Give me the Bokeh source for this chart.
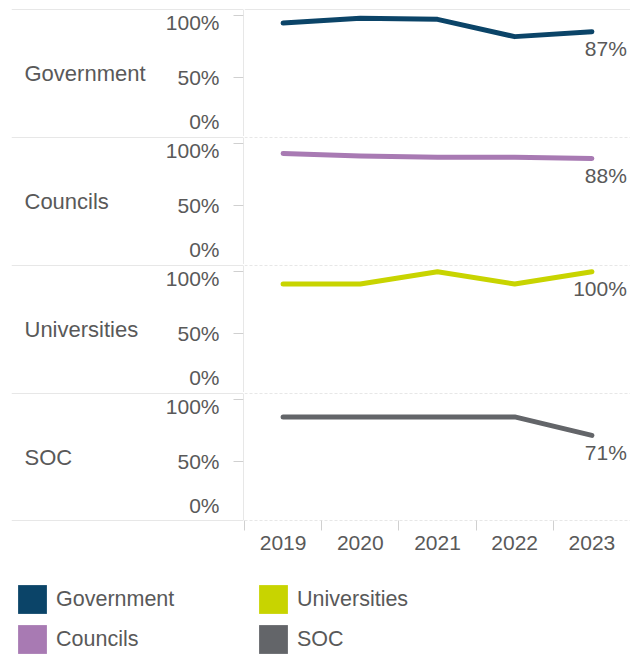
from bokeh.plotting import figure
from bokeh.layouts import column, row
from bokeh.models import Range1d, LinearAxis, FixedTicker, Span, Legend, LegendItem
from bokeh.core.properties import value
from bokeh.embed import file_html
from bokeh.resources import INLINE

# ---------------- data ----------------
years = ["2019", "2020", "2021", "2022", "2023"]
government = [0.94, 0.98, 0.97, 0.83, 0.87]
councils = [0.92, 0.90, 0.89, 0.89, 0.88]
universities = [0.90, 0.90, 1.00, 0.90, 1.00]
soc = [0.86, 0.86, 0.86, 0.86, 0.71]

series_names = ["Government", "Councils", "Universities", "SOC"]
series_values = [government, councils, universities, soc]
series_colors = ["#0b4468", "#a87ab3", "#c8d400", "#636569"]

y_tick_marks = [0.5, 1.0]
y_label_pos = [0.145, 0.5, 0.945]
y_label_text = ["0%", "50%", "100%"]

# ---------------- style ----------------
FONT = "Liberation Sans"
TEXT = "#595959"
RULE = "#d0d0d0"
PANEL_H = 128
TOP_PAD = 9
LEFT_W = 244
RIGHT_W = 386
AXIS_H = 40
LEGEND_H = 94

xs = [i + 0.5 for i in range(len(years))]
edges = [float(i) for i in range(len(years) + 1)]

rows = []
for i, (name, vals, col) in enumerate(zip(series_names, series_values, series_colors)):
    first = i == 0
    last = i == len(series_names) - 1
    top = TOP_PAD if first else 1
    h = PANEL_H + (TOP_PAD - 1 if first else 0) + (AXIS_H if last else 0)
    yr = Range1d(0.02, 1.05)

    # ---- left header + y axis ----
    left = figure(width=LEFT_W, height=h, x_range=Range1d(0, 1), y_range=yr,
                  output_backend="svg", toolbar_location=None,
                  x_axis_location=None, y_axis_location=None,
                  min_border_left=11, min_border_right=1, min_border_top=top,
                  min_border_bottom=AXIS_H if last else 0)
    left.grid.visible = False
    left.outline_line_color = None
    yaxis = LinearAxis(fixed_location=1,
                       ticker=FixedTicker(ticks=y_label_pos, minor_ticks=y_tick_marks),
                       major_label_overrides=dict(zip(y_label_pos, y_label_text)),
                       major_tick_out=0, major_tick_in=0,
                       minor_tick_out=10, minor_tick_in=0,
                       minor_tick_line_color=RULE, axis_line_color=RULE,
                       major_label_standoff=14,
                       major_label_text_font=FONT,
                       major_label_text_font_size="21px",
                       major_label_text_color=TEXT)
    left.add_layout(yaxis, "left")
    left.text(x=[0], y=[(yr.start + yr.end) / 2], text=[name], x_offset=13,
              text_align="left", text_baseline="middle",
              text_font=value(FONT), text_font_size="22px", text_color=TEXT)
    left.add_layout(Span(location=yr.end, dimension="width", line_color=RULE, line_width=1))
    if last:
        left.add_layout(Span(location=yr.start, dimension="width", line_color=RULE, line_width=1))

    # ---- right plot pane ----
    right = figure(width=RIGHT_W, height=h, x_range=Range1d(0, len(years)), y_range=yr,
                   output_backend="svg", toolbar_location=None,
                   x_axis_location="below" if last else None, y_axis_location=None,
                   min_border_left=0, min_border_right=0, min_border_top=top,
                   min_border_bottom=AXIS_H if last else 0)
    right.grid.visible = False
    right.outline_line_color = None
    right.add_layout(Span(location=yr.end, dimension="width", line_color=RULE, line_width=1,
                          line_dash="solid" if first else "3 2"))
    if last:
        right.add_layout(Span(location=yr.start, dimension="width", line_color=RULE,
                              line_width=1, line_dash="3 2"))
        ax = right.xaxis[0]
        ax.ticker = FixedTicker(ticks=xs, minor_ticks=edges)
        ax.major_label_overrides = dict(zip(xs, years))
        ax.major_tick_out = 0
        ax.major_tick_in = 0
        ax.minor_tick_out = 10
        ax.minor_tick_in = 0
        ax.minor_tick_line_color = RULE
        ax.axis_line_color = None
        ax.major_label_standoff = 5
        ax.major_label_text_font = FONT
        ax.major_label_text_font_size = "21px"
        ax.major_label_text_color = TEXT

    right.line(x=xs, y=vals, line_color=col, line_width=5, line_cap="round", line_join="round")
    right.text(x=[xs[-1]], y=[vals[-1]], text=[f"{round(vals[-1] * 100)}%"],
               x_offset=35, y_offset=17, text_align="right", text_baseline="middle",
               text_font=value(FONT), text_font_size="21px", text_color=TEXT)

    rows.append(row(left, right))

# ---------------- legend ----------------
lf = figure(width=LEFT_W + RIGHT_W, height=LEGEND_H, output_backend="svg",
            toolbar_location=None, x_axis_location=None, y_axis_location=None,
            min_border=0)
lf.grid.visible = False
lf.outline_line_color = None
items = []
for name, vals, col in zip(series_names, series_values, series_colors):
    # legend proxy: hidden renderer that only supplies the coloured swatch
    r = lf.rect(x=xs, y=vals, width=1, height=1, fill_color=col, line_color=None)
    r.visible = False
    items.append(LegendItem(label=name, renderers=[r]))
legend = Legend(items=items, orientation="vertical", nrows=2,
                location=(14, -3), padding=0, margin=0, spacing=4,
                glyph_width=36, glyph_height=36, label_standoff=6,
                label_width=195, label_height=36,
                label_text_font=FONT, label_text_font_size="21.5px",
                label_text_color=TEXT,
                background_fill_alpha=0, border_line_color=None)
lf.add_layout(legend)

layout = column(*rows, lf)
open("out.html", "w").write(file_html(layout, INLINE))
